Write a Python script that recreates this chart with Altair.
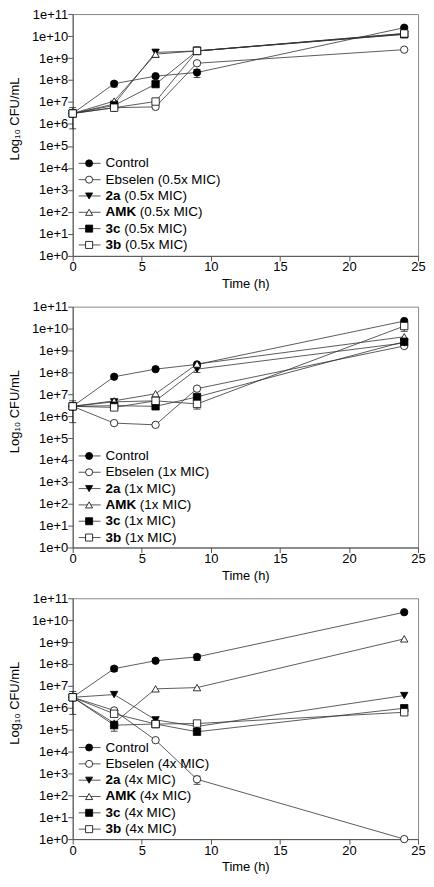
import altair as alt
import pandas as pd

TIMES = [0, 3, 6, 9, 24]
SERIES = ["Control", "Ebselen", "2a", "AMK", "3c", "3b"]
BOLD = [False, False, True, True, True, True]
SHAPES = ["circle", "circle", "triangle-down", "triangle-up", "square", "square"]
FILLS = ["black", "white", "black", "white", "black", "white"]
DOSES = ["0.5x MIC", "1x MIC", "4x MIC"]

# CFU/mL per panel, per series (rows follow SERIES), per time point (TIMES)
P_05 = [
    [3e6, 6.8e7, 1.5e8, 2.2e8, 2.4e10],
    [3e6, 5.5e6, 6e6, 5.8e8, 2.4e9],
    [3e6, 8e6, 1.8e9, 2.1e9, 1.2e10],
    [3e6, 1.1e7, 1.5e9, 2.1e9, 1.3e10],
    [3e6, 7e6, 6.5e7, 2.1e9, 1.2e10],
    [3e6, 5.5e6, 1.05e7, 2.1e9, 1.3e10],
]
P_1 = [
    [2.8e6, 6.3e7, 1.4e8, 2.3e8, 2.2e10],
    [2.8e6, 4.8e5, 4e5, 1.8e7, 1.6e9],
    [2.8e6, 4.5e6, 5e6, 1.4e8, 2.2e9],
    [2.8e6, 5e6, 1.05e7, 2.4e8, 4.2e9],
    [2.8e6, 3e6, 2.8e6, 7.5e6, 2.5e9],
    [2.8e6, 2.5e6, 5e6, 3.6e6, 1.3e10],
]
P_4 = [
    [3e6, 6.1e7, 1.4e8, 2.1e8, 2.3e10],
    [3e6, 7.5e5, 3.3e4, 5.4e2, 1],
    [3e6, 4e6, 2.8e5, 1.4e5, 3.6e6],
    [3e6, 2e5, 7.3e6, 8.3e6, 1.4e9],
    [3e6, 1.6e5, 1.8e5, 8e4, 9.5e5],
    [3e6, 5.3e5, 1.8e5, 1.9e5, 6.2e5],
]
PANELS = [P_05, P_1, P_4]

# visible error bars: (series, time, low, high)
ERR_05 = [("Control", 0, 6e5, 5.5e6), ("Control", 3, 4.8e7, 8.5e7), ("Control", 9, 1.3e8, 3e8),
          ("AMK", 6, 1.1e9, 2.5e9), ("2a", 9, 1.5e9, 3.2e9)]
ERR_1 = [("Control", 0, 5e5, 5e6), ("2a", 9, 1e8, 1.8e8), ("3b", 9, 2.1e6, 5e6),
         ("3b", 24, 7.5e9, 1.8e10)]
ERR_4 = [("Control", 0, 5e5, 5.5e6), ("Control", 3, 4.5e7, 7.5e7), ("Control", 9, 1.45e8, 2.7e8),
         ("3c", 3, 8.5e4, 2.4e5), ("Ebselen", 9, 3.2e2, 7.5e2)]
ERRS = [ERR_05, ERR_1, ERR_4]

HEIGHTS = [243, 242, 242]
WIDTH = 347

X_TICKS = [0, 5, 10, 15, 20, 25]
Y_TICKS = [10 ** k for k in range(0, 12)]

FONT = "Liberation Sans"
# approx Arial-bold glyph advance widths (em) used to place the normal part after the bold part
BOLD_EM = {"2": 0.556, "a": 0.556, "A": 0.722, "M": 0.833, "K": 0.722, "3": 0.556,
           "c": 0.556, "b": 0.611, " ": 0.278}
LEG_FS = 13.5


def legend_layers(dose):
    layers = []
    one = alt.Data(values=[{}])
    for i, (name, bold, shp, fil) in enumerate(zip(SERIES, BOLD, SHAPES, FILLS)):
        yy = 150 + 16.4 * i
        layers.append(alt.Chart(one).mark_rule(color="#444", strokeWidth=0.9).encode(
            x=alt.value(6), x2=alt.value(28), y=alt.value(yy)))
        layers.append(alt.Chart(one).mark_point(size=50, filled=True, stroke="black",
                                                strokeWidth=0.8, opacity=1).encode(
            x=alt.value(16.5), y=alt.value(yy), shape=alt.value(shp), fill=alt.value(fil)))
        if name == "Control":
            layers.append(alt.Chart(one).mark_text(align="left", baseline="middle", font=FONT,
                                                   fontSize=LEG_FS, color="black").encode(
                x=alt.value(33), y=alt.value(yy), text=alt.value("Control")))
            continue
        if bold:
            w = sum(BOLD_EM.get(c, 0.6) for c in name) * LEG_FS + 0.278 * LEG_FS
            layers.append(alt.Chart(one).mark_text(align="left", baseline="middle", font=FONT,
                                                   fontSize=LEG_FS, fontWeight="bold",
                                                   color="black").encode(
                x=alt.value(33), y=alt.value(yy), text=alt.value(name)))
            layers.append(alt.Chart(one).mark_text(align="left", baseline="middle", font=FONT,
                                                   fontSize=LEG_FS, color="black").encode(
                x=alt.value(33 + w), y=alt.value(yy), text=alt.value("(" + dose + ")")))
        else:
            layers.append(alt.Chart(one).mark_text(align="left", baseline="middle", font=FONT,
                                                   fontSize=LEG_FS, color="black").encode(
                x=alt.value(33), y=alt.value(yy), text=alt.value(name + " (" + dose + ")")))
    return layers


def panel(vals, errs, dose, h):
    rows = []
    for si, s in enumerate(SERIES):
        for t, v in zip(TIMES, vals[si]):
            rows.append({"series": s, "order": si, "t": t, "v": v})
    df = pd.DataFrame(rows)
    edf = pd.DataFrame([{"series": s, "t": t, "lo": lo, "hi": hi} for s, t, lo, hi in errs])
    x = alt.X("t:Q", scale=alt.Scale(domain=[0, 25], nice=False, zero=False),
              axis=alt.Axis(values=X_TICKS, title="Time (h)", grid=False, tickSize=5,
                            labelFontSize=13, titleFontSize=13, titleFontWeight="normal",
                            labelPadding=0, titlePadding=4, labelFont=FONT, titleFont=FONT,
                            labelColor="black", titleColor="black", domainColor="#555",
                            tickColor="#555", labelFlush=False))
    y = alt.Y("v:Q", scale=alt.Scale(type="log", domain=[1, 1e11], nice=False),
              axis=alt.Axis(values=Y_TICKS, title="Log\u2081\u2080 CFU/mL", grid=False,
                            tickSize=5, labelFontSize=13, titleFontSize=13,
                            titleFontWeight="normal", labelPadding=0,
                            labelExpr="'1e+' + round(log(datum.value) / LN10)",
                            labelFont=FONT, titleFont=FONT, labelColor="black",
                            titleColor="black", domainColor="#555", tickColor="#555",
                            titleX=-51, titleY=105, labelFlush=False))
    lines = alt.Chart(df).mark_line(color="#333", strokeWidth=0.8).encode(
        x=x, y=y, detail="series:N", order="t:Q")
    ebar = alt.Chart(edf).mark_rule(color="#222", strokeWidth=0.8).encode(
        x="t:Q", y="lo:Q", y2="hi:Q")
    cap_lo = alt.Chart(edf).mark_tick(orient="horizontal", size=7, thickness=0.8,
                                      color="#222", opacity=1).encode(x="t:Q", y="lo:Q")
    cap_hi = alt.Chart(edf).mark_tick(orient="horizontal", size=7, thickness=0.8,
                                      color="#222", opacity=1).encode(x="t:Q", y="hi:Q")
    pts = alt.Chart(df).mark_point(size=55, filled=True, stroke="black", strokeWidth=0.8,
                                   opacity=1).encode(
        x="t:Q", y="v:Q",
        shape=alt.Shape("series:N", scale=alt.Scale(domain=SERIES, range=SHAPES), legend=None),
        fill=alt.Fill("series:N", scale=alt.Scale(domain=SERIES, range=FILLS), legend=None),
        order="order:Q")
    return alt.layer(lines, ebar, cap_lo, cap_hi, pts, *legend_layers(dose)).properties(
        width=WIDTH, height=h)


chart = alt.vconcat(*[panel(v, e, d, h) for v, e, d, h in zip(PANELS, ERRS, DOSES, HEIGHTS)],
                    spacing=8).properties(
    padding={"left": 0, "top": -3, "right": 0, "bottom": 0},
    background="white",
).configure_view(stroke="#888", strokeWidth=1)

chart.save("out.html", embed_options={"renderer": "svg", "actions": False})
